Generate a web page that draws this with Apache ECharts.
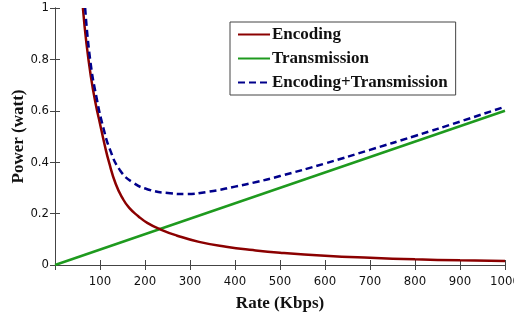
<!DOCTYPE html>
<html>
<head>
<meta charset="utf-8">
<script src="https://cdn.jsdelivr.net/npm/echarts@6/dist/echarts.min.js"></script>
<style>
  html, body { margin: 0; padding: 0; background: #fff; }
  #chart { width: 514px; height: 320px; }
</style>
</head>
<body>
<div id="chart"></div>
<script>
// 读图得到的数据
const encRates = [62, 70, 80, 90, 100, 110, 120, 135, 150, 165, 185, 205, 235, 270, 320, 380, 440, 500, 600, 700, 800, 900, 1000];
const encoding = [1.0, 0.86, 0.73, 0.63, 0.55, 0.47, 0.40, 0.315, 0.26, 0.222, 0.19, 0.164, 0.138, 0.115, 0.09, 0.071, 0.058, 0.048, 0.036, 0.028, 0.022, 0.018, 0.016];

const transRates = [0, 1000];
const transmission = [0, 0.6];

const sumRates = [67, 78, 93, 108, 122, 144, 174, 211, 256, 290, 340, 400, 450, 500, 600, 700, 800, 900, 1000];
const encTrans = [1.0, 0.80, 0.645, 0.53, 0.45, 0.37, 0.32, 0.292, 0.279, 0.276, 0.285, 0.305, 0.324, 0.346, 0.395, 0.448, 0.502, 0.558, 0.616];

const seriesNames = ['Encoding', 'Transmission', 'Encoding+Transmission'];

const pairs = (xs, ys) => xs.map((x, i) => [x, ys[i]]);

const myChart = echarts.init(document.getElementById('chart'));

const tickFont = {
  fontFamily: '"DejaVu Sans Condensed", "Liberation Sans Narrow", sans-serif',
  fontSize: 13,
  color: '#111',
};
const titleFont = {
  fontFamily: '"Liberation Serif", "Times New Roman", serif',
  fontWeight: 'bold',
  fontSize: 17,
  color: '#111',
};
const boxLine = { lineStyle: { color: '#444', width: 1 } };

const option = {
  backgroundColor: '#fff',
  animation: false,
  grid: { left: 55, right: 9, top: 8, bottom: 55, outerBoundsMode: 'none' },
  legend: {
    data: seriesNames,
    orient: 'vertical',
    left: 230,
    top: 22,
    padding: [4, 8, 4, 7],
    itemWidth: 32,
    itemHeight: 14,
    itemGap: 7,
    backgroundColor: '#fff',
    borderColor: '#444',
    borderWidth: 1,
    borderRadius: 0,
    itemStyle: { opacity: 0 },
    textStyle: {
      fontFamily: '"Liberation Serif", "Times New Roman", serif',
      fontWeight: 'bold',
      fontSize: 17,
      color: '#111',
      padding: [0, 0, 0, -3],
    },
  },
  xAxis: [
    {
      type: 'value',
      min: 0,
      max: 1000,
      interval: 100,
      name: 'Rate (Kbps)',
      nameLocation: 'middle',
      nameGap: 30,
      nameTextStyle: titleFont,
      axisLine: boxLine,
      axisTick: { inside: true, length: 5, lineStyle: { color: '#444' } },
      axisLabel: Object.assign({}, tickFont, {
        margin: 10,
        showMinLabel: false,
        formatter: v => String(v),
      }),
      splitLine: { show: false },
    },
    {
      type: 'value',
      position: 'top',
      min: 0,
      max: 1000,
      interval: 100,
      axisLine: boxLine,
      axisTick: { inside: true, length: 5, lineStyle: { color: '#444' } },
      axisLabel: { show: false },
      splitLine: { show: false },
    },
  ],
  yAxis: [
    {
      type: 'value',
      min: 0,
      max: 1,
      interval: 0.2,
      name: 'Power (watt)',
      nameLocation: 'middle',
      nameGap: 28,
      nameMoveOverlap: false,
      nameTextStyle: titleFont,
      axisLine: { show: true, lineStyle: { color: '#444', width: 1 } },
      axisTick: { show: true, inside: true, length: 5, lineStyle: { color: '#444' } },
      axisLabel: Object.assign({}, tickFont, {
        margin: 6,
        formatter: v => String(+v.toFixed(1)),
      }),
      splitLine: { show: false },
    },
    {
      type: 'value',
      position: 'right',
      min: 0,
      max: 1,
      interval: 0.2,
      axisLine: { show: true, lineStyle: { color: '#444', width: 1 } },
      axisTick: { show: true, inside: true, length: 5, lineStyle: { color: '#444' } },
      axisLabel: { show: false },
      splitLine: { show: false },
    },
  ],
  series: [
    {
      name: seriesNames[0],
      type: 'line',
      data: pairs(encRates, encoding),
      smooth: true,
      symbol: 'none',
      lineStyle: { color: '#8b0000', width: 2.5 },
      itemStyle: { color: '#8b0000' },
      z: 3,
    },
    {
      name: seriesNames[1],
      type: 'line',
      data: pairs(transRates, transmission),
      symbol: 'none',
      lineStyle: { color: '#1e9a1e', width: 2.5 },
      itemStyle: { color: '#1e9a1e' },
      z: 2,
    },
    {
      name: seriesNames[2],
      type: 'line',
      data: pairs(sumRates, encTrans),
      smooth: true,
      symbol: 'none',
      lineStyle: { color: '#00008b', width: 2.5, type: [7, 4] },
      itemStyle: { color: '#00008b' },
      z: 4,
    },
  ],
};

myChart.setOption(option);
</script>
</body>
</html>
